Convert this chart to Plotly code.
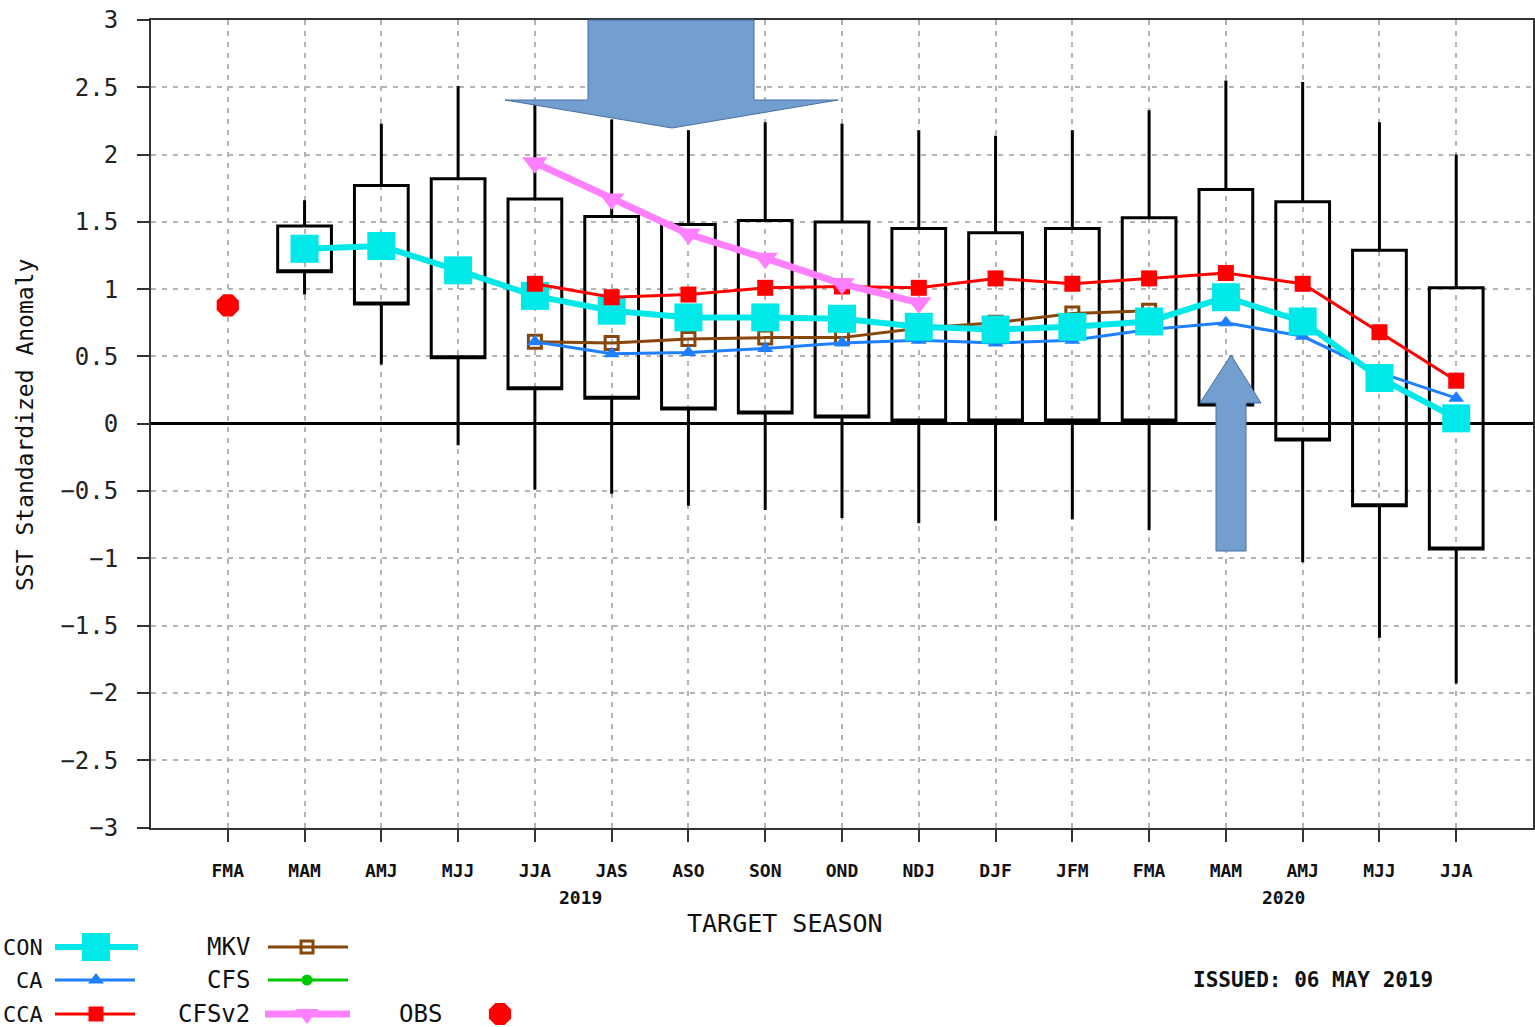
import plotly.graph_objects as go

# ---------------- data ----------------
seasons = ["FMA", "MAM", "AMJ", "MJJ", "JJA", "JAS", "ASO", "SON", "OND",
           "NDJ", "DJF", "JFM", "FMA", "MAM", "AMJ", "MJJ", "JJA"]
season_idx = list(range(len(seasons)))

# box-and-whisker spread (seasons index 1..16)
box_idx = list(range(1, 17))
whisker_high = [1.66, 2.23, 2.51, 2.37, 2.26, 2.18, 2.24, 2.23, 2.18, 2.14, 2.18, 2.33, 2.55, 2.54, 2.24, 2.00]
box_high = [1.47, 1.77, 1.82, 1.67, 1.54, 1.48, 1.51, 1.50, 1.45, 1.42, 1.45, 1.53, 1.74, 1.65, 1.29, 1.01]
box_low = [1.13, 0.89, 0.49, 0.26, 0.19, 0.11, 0.08, 0.05, 0.02, 0.02, 0.02, 0.02, 0.14, -0.12, -0.61, -0.93]
whisker_low = [0.96, 0.44, -0.16, -0.49, -0.52, -0.61, -0.64, -0.70, -0.74, -0.72, -0.71, -0.79, -0.90, -1.03, -1.59, -1.93]

con_idx = list(range(1, 17))
con_vals = [1.30, 1.32, 1.14, 0.95, 0.84, 0.79, 0.79, 0.78, 0.72, 0.70, 0.72, 0.76, 0.94, 0.76, 0.34, 0.04]

ca_idx = list(range(4, 17))
ca_vals = [0.61, 0.52, 0.53, 0.56, 0.60, 0.62, 0.60, 0.62, 0.70, 0.75, 0.65, 0.38, 0.19]

cca_idx = list(range(4, 17))
cca_vals = [1.04, 0.94, 0.96, 1.01, 1.02, 1.01, 1.08, 1.04, 1.08, 1.12, 1.04, 0.68, 0.32]

mkv_idx = list(range(4, 13))
mkv_vals = [0.61, 0.60, 0.63, 0.64, 0.64, 0.71, 0.75, 0.82, 0.84]

cfsv2_idx = list(range(4, 10))
cfsv2_vals = [1.94, 1.67, 1.41, 1.23, 1.04, 0.90]

obs_idx = [0]
obs_vals = [0.88]

year_labels = ["2019", "2020"]
year_pos = [4.59, 13.75]

# ---------------- styling ----------------
W, H = 1535, 1027
MONO = "DejaVu Sans Mono"
C_CON = "rgb(0,232,232)"
C_CA = "rgb(30,128,255)"
C_CCA = "rgb(255,0,0)"
C_MKV = "rgb(135,70,10)"
C_CFS = "rgb(0,200,0)"
C_CFSV2 = "rgb(255,128,255)"
C_OBS = "rgb(255,0,0)"
ARROW_FILL = "rgb(114,159,207)"
ARROW_LINE = "rgb(70,110,165)"

PL, PR, PT, PB = 151, 1533, 20, 827.5

fig = go.Figure()

fig.add_trace(go.Box(
    x=box_idx, q1=box_low, q3=box_high, median=box_low,
    lowerfence=whisker_low, upperfence=whisker_high,
    width=0.7, whiskerwidth=0, boxpoints=False,
    line=dict(color="black", width=3), fillcolor="rgba(0,0,0,0)",
    showlegend=False, hoverinfo="skip"))

fig.add_trace(go.Scatter(x=mkv_idx, y=mkv_vals, mode="lines+markers",
    line=dict(color=C_MKV, width=3),
    marker=dict(symbol="square-open", size=13, color=C_MKV, line=dict(width=3, color=C_MKV)),
    showlegend=False))
fig.add_trace(go.Scatter(x=ca_idx, y=ca_vals, mode="lines+markers",
    line=dict(color=C_CA, width=3),
    marker=dict(symbol="triangle-up", size=14, color=C_CA), showlegend=False))
fig.add_trace(go.Scatter(x=con_idx, y=con_vals, mode="lines+markers",
    line=dict(color=C_CON, width=6),
    marker=dict(symbol="square", size=28, color=C_CON), showlegend=False))
fig.add_trace(go.Scatter(x=cca_idx, y=cca_vals, mode="lines+markers",
    line=dict(color=C_CCA, width=3),
    marker=dict(symbol="square", size=16, color=C_CCA), showlegend=False))
fig.add_trace(go.Scatter(x=cfsv2_idx, y=cfsv2_vals, mode="lines+markers",
    line=dict(color=C_CFSV2, width=7),
    marker=dict(symbol="triangle-down", size=22, color=C_CFSV2), showlegend=False))
fig.add_trace(go.Scatter(x=obs_idx, y=obs_vals, mode="markers",
    marker=dict(symbol="octagon", size=24, color=C_OBS), showlegend=False))

# ---------------- pixel-space subplot for legend / arrows ----------------
leg_rows = [947, 980, 1014]
legend_items = [
    ("CON", 45, 55, 138, 96, 0, C_CON, 6, "square", 28),
    ("CA", 45, 55, 135, 96, 1, C_CA, 3, "triangle-up", 14),
    ("CCA", 45, 55, 135, 96, 2, C_CCA, 3, "square", 15),
    ("MKV", 252, 268, 348, 307, 0, C_MKV, 3, "square-open", 12),
    ("CFS", 252, 268, 348, 307, 1, C_CFS, 3, "circle", 11),
    ("CFSv2", 252, 265, 350, 307, 2, C_CFSV2, 7, "triangle-down", 20),
]
for lab, tx, x0, x1, mx, r, col, lw, sym, ms in legend_items:
    yy = leg_rows[r]
    fig.add_trace(go.Scatter(x=[x0, x1], y=[yy, yy], mode="lines",
        line=dict(color=col, width=lw), xaxis="x2", yaxis="y2",
        showlegend=False, hoverinfo="skip"))
    mk = dict(symbol=sym, size=ms, color=col)
    if sym == "square-open":
        mk["line"] = dict(width=3, color=col)
    fig.add_trace(go.Scatter(x=[mx], y=[yy], mode="markers", marker=mk,
        xaxis="x2", yaxis="y2", showlegend=False, hoverinfo="skip"))
    fsize = 22 if tx < 100 else 24
    fig.add_annotation(x=tx, y=yy, xref="x2", yref="y2", text=lab, showarrow=False,
        xanchor="right", yanchor="middle", font=dict(family=MONO, size=fsize, color="#111"))
fig.add_trace(go.Scatter(x=[500], y=[leg_rows[2]], mode="markers",
    marker=dict(symbol="octagon", size=24, color=C_OBS),
    xaxis="x2", yaxis="y2", showlegend=False, hoverinfo="skip"))
fig.add_annotation(x=444, y=leg_rows[2], xref="x2", yref="y2", text="OBS", showarrow=False,
    xanchor="right", yanchor="middle", font=dict(family=MONO, size=24, color="#111"))

# texts
fig.add_annotation(x=785, y=923, xref="x2", yref="y2", text="TARGET SEASON", showarrow=False,
    xanchor="center", yanchor="middle", font=dict(family=MONO, size=25, color="#111"))
fig.add_annotation(x=1313, y=980, xref="x2", yref="y2", text="ISSUED: 06 MAY 2019", showarrow=False,
    xanchor="center", yanchor="middle", font=dict(family=MONO, size=21, color="#111", weight="bold"))
fig.add_annotation(x=25, y=425, xref="x2", yref="y2", text="SST Standardized Anomaly", showarrow=False,
    textangle=-90, xanchor="center", yanchor="middle", font=dict(family=MONO, size=23, color="#111"))
for lab, xp in zip(year_labels, year_pos):
    fig.add_annotation(x=xp, y=897, xref="x", yref="y2", text=lab, showarrow=False,
        xanchor="center", yanchor="middle", font=dict(family=MONO, size=18, color="#111", weight="bold"))

# arrows (decorations)
down_arrow = "M 588 20 L 754 20 L 754 100 L 838 100 L 672 128 L 505 100 L 588 100 Z"
up_arrow = "M 1231 355 L 1261 403 L 1246 403 L 1246 551 L 1216 551 L 1216 403 L 1200 403 Z"
for p in (down_arrow, up_arrow):
    fig.add_shape(type="path", path=p, xref="x2", yref="y2", layer="above",
        fillcolor=ARROW_FILL, line=dict(color=ARROW_LINE, width=1))

grid = dict(showgrid=True, gridcolor="#b4b4b4", gridwidth=1.5, griddash="5px,6px")
fig.update_layout(
    width=W, height=H, margin=dict(l=0, r=0, t=0, b=0),
    paper_bgcolor="white", plot_bgcolor="rgba(0,0,0,0)",
    xaxis=dict(domain=[PL / W, PR / W], range=[-1, 17], tickmode="array",
               tickvals=season_idx, ticktext=seasons, ticks="outside", ticklen=12,
               tickwidth=2, tickcolor="#333", ticklabelstandoff=14,
               tickfont=dict(family=MONO, size=18, color="#111", weight="bold"),
               showline=True, linecolor="#333", linewidth=2, mirror=True,
               zeroline=False, automargin=False, fixedrange=True, anchor="y", **grid),
    yaxis=dict(domain=[(H - PB) / H, (H - PT) / H], range=[-3, 3], dtick=0.5,
               tick0=0, ticks="outside", ticklen=12, tickwidth=2, tickcolor="#333",
               ticklabelstandoff=14,
               tickfont=dict(family=MONO, size=24, color="#222"),
               showline=True, linecolor="#333", linewidth=2, mirror=True,
               zeroline=True, zerolinecolor="black", zerolinewidth=3,
               automargin=False, fixedrange=True, anchor="x", **grid),
    xaxis2=dict(domain=[0, 1], range=[0, W], visible=False, anchor="y2", fixedrange=True),
    yaxis2=dict(domain=[0, 1], range=[H, 0], visible=False, anchor="x2", fixedrange=True),
    showlegend=False,
)

fig.write_html("out.html", config={"displayModeBar": False},
               post_script="document.body.style.margin='0';document.body.style.overflow='hidden';")
